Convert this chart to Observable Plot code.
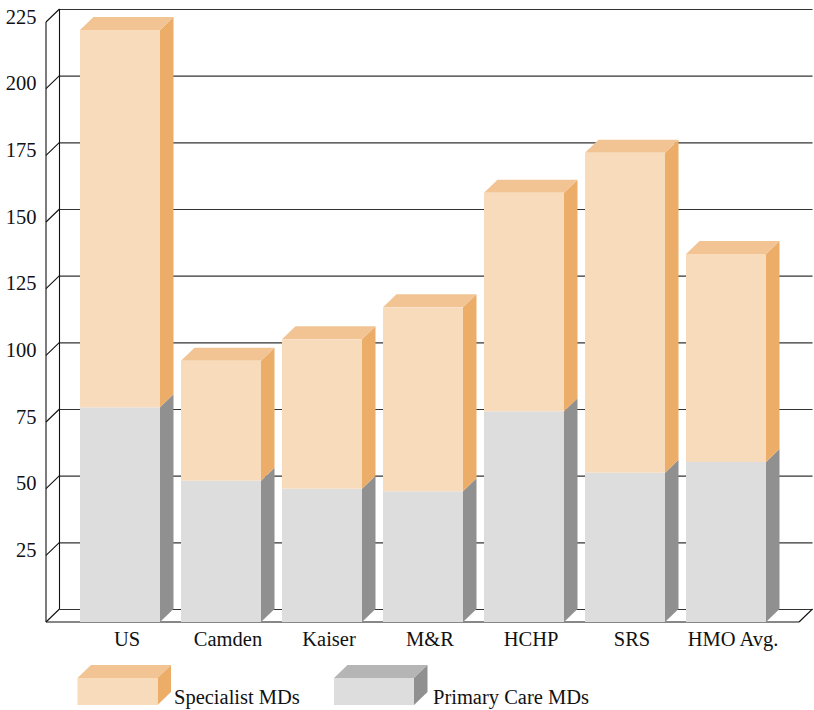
<!DOCTYPE html>
<html>
<head>
<meta charset="utf-8">
<script src="https://cdn.jsdelivr.net/npm/d3@7"></script>
<script src="https://cdn.jsdelivr.net/npm/@observablehq/plot@0.6"></script>
<style>
  html, body { margin: 0; padding: 0; background: #fff; }
  #chart svg { display: block; }
  #legend svg { display: block; }
</style>
</head>
<body>
<div id="chart"></div>
<div id="legend"></div>
<script>
// ---- data ----
const categories = ["US", "Camden", "Kaiser", "M&R", "HCHP", "SRS", "HMO Avg."];
const primaryCare = [80.5, 53, 50, 49, 79, 56, 60];
const specialists = [141.5, 45, 56, 69, 82, 120, 78];
const seriesNames = ["Specialist MDs", "Primary Care MDs"];
const yTicks = [25, 50, 75, 100, 125, 150, 175, 200, 225];
const gridValues = [0, 25, 50, 75, 100, 125, 150, 175, 200, 225];

// ---- styles ----
const FONT = "Liberation Serif, Times New Roman, serif";
const FS = 20.5;
const faces = {
  "Specialist MDs": {front: "#F8DBBB", top: "#F2C493", side: "#ECAD68"},
  "Primary Care MDs": {front: "#DDDDDD", top: "#B5B5B5", side: "#909090"}
};
const DX = 13.5, DY = -13;

const rows = [];
categories.forEach((c, i) => {
  rows.push({cat: c, series: "Primary Care MDs", y1: 0, y2: primaryCare[i], top: false});
  rows.push({cat: c, series: "Specialist MDs", y1: primaryCare[i], y2: primaryCare[i] + specialists[i], top: true});
});

// frame (walls, floor, diagonal ticks)
function frame(index, scales, values, dims) {
  const y = scales.y;
  const xL = dims.marginLeft, xR = dims.width - dims.marginRight;
  const g = d3.create("svg:g").attr("fill", "none").attr("stroke", "#111").attr("stroke-width", 1.1);
  const y0 = y(0), yTop = y(225);
  g.append("line").attr("x1", xL + DX).attr("x2", xL + DX).attr("y1", y0 + DY).attr("y2", yTop + DY);
  g.append("line").attr("x1", xL).attr("x2", xL).attr("y1", y0).attr("y2", yTop);
  for (const v of gridValues) {
    g.append("line").attr("x1", xL).attr("y1", y(v)).attr("x2", xL + DX).attr("y2", y(v) + DY);
  }
  g.append("line").attr("x1", xL).attr("x2", xR).attr("y1", y0).attr("y2", y0);
  g.append("line").attr("x1", xR).attr("y1", y0).attr("x2", xR + DX).attr("y2", y0 + DY);
  return g.node();
}

// 3D side and top faces of the bars
function depthFaces(index, scales, values, dims) {
  const x = scales.x, y = scales.y;
  const bw = x.bandwidth ? x.bandwidth() : 80;
  const g = d3.create("svg:g");
  for (const r of rows) {
    const xl = x(r.cat), xr = xl + bw;
    const yt = y(r.y2), yb = y(r.y1);
    const f = faces[r.series];
    g.append("polygon")
      .attr("points", [[xr, yb], [xr + DX, yb + DY], [xr + DX, yt + DY], [xr, yt]].map(p => p.join(",")).join(" "))
      .attr("fill", f.side);
    if (r.top) {
      g.append("polygon")
        .attr("points", [[xl, yt], [xl + DX, yt + DY], [xr + DX, yt + DY], [xr, yt]].map(p => p.join(",")).join(" "))
        .attr("fill", f.top);
    }
  }
  return g.node();
}

const chart = Plot.plot({
  width: 814,
  height: 660,
  marginLeft: 46,
  marginRight: 15,
  marginTop: 22,
  marginBottom: 38,
  style: {fontFamily: FONT, fontSize: FS + "px", color: "#111", background: "#fff"},
  x: {domain: categories, paddingInner: 0.21, paddingOuter: 0.30, label: null},
  y: {domain: [0, 225], label: null},
  color: {domain: seriesNames, range: seriesNames.map(s => faces[s].front)},
  marks: [
    Plot.ruleY(gridValues, {dx: DX, dy: DY, stroke: "#333", strokeWidth: 1.1}),
    frame,
    depthFaces,
    Plot.barY(rows, {x: "cat", y1: "y1", y2: "y2", fill: "series", inset: 0}),
    Plot.axisY({ticks: yTicks, tickSize: 0, tickPadding: 10, dy: -5.5, fill: "#111", label: null}),
    Plot.axisX({tickSize: 0, tickPadding: 9, dx: 6.5, fill: "#111", label: null})
  ]
});
document.getElementById("chart").appendChild(chart);

// ---- legend (below the chart svg) ----
const legendItems = [
  {name: seriesNames[0], x: 77.5, tx: 174},
  {name: seriesNames[1], x: 334, tx: 433}
];
const lsvg = d3.create("svg").attr("width", 814).attr("height", 50)
  .style("font-family", FONT).style("font-size", FS + "px");
for (const it of legendItems) {
  const f = faces[it.name];
  const x0 = it.x, x1 = it.x + 80, yF = 18, yB = 45;
  lsvg.append("polygon").attr("fill", f.top)
    .attr("points", [[x0, yF], [x0 + DX, yF + DY], [x1 + DX, yF + DY], [x1, yF]].map(p => p.join(",")).join(" "));
  lsvg.append("polygon").attr("fill", f.side)
    .attr("points", [[x1, yB], [x1 + DX, yB + DY], [x1 + DX, yF + DY], [x1, yF]].map(p => p.join(",")).join(" "));
  lsvg.append("rect").attr("x", x0).attr("y", yF).attr("width", 80).attr("height", yB - yF).attr("fill", f.front);
  lsvg.append("text").attr("x", it.tx).attr("y", 44).attr("fill", "#111").text(it.name);
}
document.getElementById("legend").appendChild(lsvg.node());
</script>
</body>
</html>
